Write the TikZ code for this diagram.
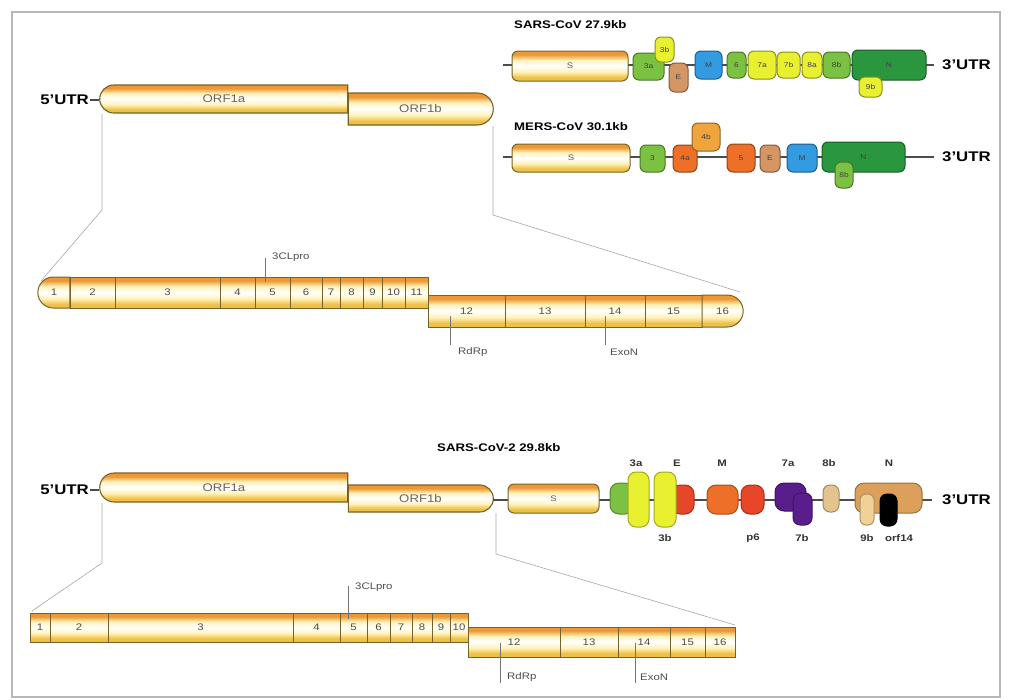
\documentclass[tikz,border=0pt]{standalone}
\usepackage{fontspec}
\setmainfont[FakeStretch=1.2]{Liberation Sans}
\usetikzlibrary{shapes.misc}
\definecolor{orftop}{RGB}{236,152,52}
\definecolor{orfbot}{RGB}{238,192,72}
\definecolor{orfmid}{RGB}{255,242,185}
\definecolor{orfline}{RGB}{118,98,40}
\definecolor{gLight}{RGB}{124,194,66}
\definecolor{gDark}{RGB}{42,150,62}
\definecolor{yel}{RGB}{232,240,48}
\definecolor{tanE}{RGB}{212,150,100}
\definecolor{blu}{RGB}{50,155,225}
\definecolor{org}{RGB}{238,112,40}
\definecolor{lorg}{RGB}{240,165,60}
\definecolor{redE}{RGB}{232,70,40}
\definecolor{pur}{RGB}{90,30,140}
\definecolor{tanB}{RGB}{228,196,140}
\definecolor{ntan}{RGB}{220,160,90}
\definecolor{ptan}{RGB}{240,210,150}
\pgfdeclareverticalshading{orf}{100bp}{color(0bp)=(orfbot); color(25bp)=(orfbot); color(31bp)=(orfbot); color(40bp)=(orfmid); color(50bp)=(white); color(60bp)=(orfmid); color(69bp)=(orftop); color(75bp)=(orftop); color(100bp)=(orftop)}
\newcommand\gbox[7]{\node[#6,minimum width={(#4)-(#2)},minimum height={(#5)-(#3)}] (#1) at ({((#2)+(#4))/2},{((#3)+(#5))/2}) {#7};}
\tikzset{
 orfbox/.style={rounded rectangle, shade, shading=orf, draw=orfline, line width=1.1pt, inner sep=0pt, font=\fontsize{11}{11}\selectfont, text=black!60},
 cell/.style={rectangle, shade, shading=orf, draw=orfline, line width=1pt, inner sep=0pt, font=\fontsize{9.5}{10}\selectfont, text=black!70},
 gene/.style={rectangle, rounded corners=6pt, line width=1pt, inner sep=0pt, font=\fontsize{7}{7}\selectfont, text=black!75},
 gc/.style={gene, fill=#1, draw=#1!60!black},
 sgene/.style={rectangle, rounded corners=6pt, shade, shading=orf, draw=orfline, line width=1pt, inner sep=0pt, font=\fontsize{8}{8}\selectfont, text=black!65},
 g2/.style={rectangle, rounded corners=9pt, fill=#1, draw=#1!70!black, line width=1pt, inner sep=0pt},
 bb/.style={draw=black!70, line width=1.2pt},
 utr/.style={font=\bfseries\fontsize{14}{14}\selectfont, inner sep=1pt},
 ttl/.style={font=\bfseries\fontsize{11}{11}\selectfont, inner sep=0pt},
 conn/.style={draw=black!35, line width=0.6pt},
 tickline/.style={draw=black!55, line width=0.6pt},
 lab/.style={font=\fontsize{9.5}{10}\selectfont, text=black!70, inner sep=0pt},
 glab/.style={font=\bfseries\fontsize{9.5}{10}\selectfont, text=black!80, inner sep=0pt},
}
\begin{document}
\begin{tikzpicture}[x=1pt,y=-1pt]
\useasboundingbox (0,0) rectangle (1009,699);
\draw[black!28, line width=1.2pt] (12,12) rectangle (1000,697);

% ---------- top genome ----------
\gbox{o1b}{348}{93}{493}{125}{orfbox,rounded rectangle west arc=none}{ORF1b}
\gbox{o1a}{100}{85}{348}{113}{orfbox,rounded rectangle east arc=none}{ORF1a}
\node[utr,anchor=east] (u5a) at (90,100) {5'UTR};
\draw[bb] (u5a.east) -- (o1a.west |- u5a.east);

% connectors to nsp row
\coordinate (c1) at (102,114); \coordinate (c2) at (102,210); \coordinate (c3) at (41,281);
\draw[conn] (c1) -- (c2) -- (c3);
\coordinate (c4) at (493,126); \coordinate (c5) at (493,215); \coordinate (c6) at (740,292);
\draw[conn] (c4) -- (c5) -- (c6);

% ---------- SARS-CoV ----------
\node[ttl,anchor=west] (tA) at (514,25) {SARS-CoV 27.9kb};
\coordinate (bA0) at (503,65); \coordinate (bA1) at (934,65);
\draw[bb] (bA0) -- (bA1);
\node[utr,anchor=west] (u3a) at (941,65) {3'UTR};
\gbox{aS}{512}{51}{628}{81}{sgene}{S}
\gbox{a3a}{633}{53}{664}{80}{gc=gLight}{3a}
\gbox{a3b}{655}{37}{674}{62}{gc=yel}{3b}
\gbox{aE}{669}{63}{688}{92}{gc=tanE}{E}
\gbox{aM}{695}{51}{722}{79}{gc=blu}{M}
\gbox{a6}{727}{52}{746}{78}{gc=gLight}{6}
\gbox{a7a}{748}{51}{776}{79}{gc=yel}{7a}
\gbox{a7b}{777}{52}{800}{78}{gc=yel}{7b}
\gbox{a8a}{802}{52}{822}{78}{gc=yel}{8a}
\gbox{a8b}{823}{52}{850}{78}{gc=gLight}{8b}
\gbox{aN}{852}{50}{926}{80}{gc=gDark}{N}
\gbox{a9b}{859}{77}{882}{97}{gc=yel}{9b}

% ---------- MERS-CoV ----------
\node[ttl,anchor=west] (tB) at (514,127) {MERS-CoV 30.1kb};
\coordinate (bB0) at (503,157); \coordinate (bB1) at (934,157);
\draw[bb] (bB0) -- (bB1);
\node[utr,anchor=west] (u3b) at (941,157) {3'UTR};
\gbox{bS}{512}{144}{630}{172}{sgene}{S}
\gbox{b3}{640}{145}{665}{172}{gc=gLight}{3}
\gbox{b4a}{673}{145}{697}{172}{gc=org}{4a}
\gbox{b4b}{692}{123}{720}{151}{gc=lorg}{4b}
\gbox{b5}{727}{144}{755}{172}{gc=org}{5}
\gbox{bE}{760}{145}{780}{172}{gc=tanE}{E}
\gbox{bM}{787}{144}{817}{172}{gc=blu}{M}
\gbox{bN}{822}{142}{905}{172}{gc=gDark}{N}
\gbox{b8b}{835}{162}{853}{188}{gc=gLight}{8b}

% ---------- nsp row (SARS-CoV) ----------
\gbox{n1}{38}{277}{70}{308}{cell,rounded rectangle,rounded rectangle east arc=none}{1}
\gbox{n2}{70}{277}{115}{308}{cell}{2}
\gbox{n3}{115}{277}{220}{308}{cell}{3}
\gbox{n4}{220}{277}{255}{308}{cell}{4}
\gbox{n5}{255}{277}{290}{308}{cell}{5}
\gbox{n6}{290}{277}{322}{308}{cell}{6}
\gbox{n7}{322}{277}{340}{308}{cell}{7}
\gbox{n8}{340}{277}{363}{308}{cell}{8}
\gbox{n9}{363}{277}{382}{308}{cell}{9}
\gbox{n10}{382}{277}{405}{308}{cell}{10}
\gbox{n11}{405}{277}{428}{308}{cell}{11}
\gbox{n12}{428}{295}{505}{327}{cell}{12}
\gbox{n13}{505}{295}{585}{327}{cell}{13}
\gbox{n14}{585}{295}{645}{327}{cell}{14}
\gbox{n15}{645}{295}{702}{327}{cell}{15}
\gbox{n16}{702}{295}{743}{327}{cell,rounded rectangle,rounded rectangle west arc=none}{16}
\coordinate (k1a) at (265,258); \coordinate (k1b) at (265,282);
\draw[tickline] (k1a) -- (k1b);
\node[lab,anchor=west] (l1) at (272,257) {3CLpro};
\coordinate (k2a) at (450,316); \coordinate (k2b) at (450,345);
\draw[tickline] (k2a) -- (k2b);
\node[lab,anchor=west] (l2) at (458,352) {RdRp};
\coordinate (k3a) at (605,316); \coordinate (k3b) at (605,345);
\draw[tickline] (k3a) -- (k3b);
\node[lab,anchor=west] (l3) at (610,352) {ExoN};

% ---------- bottom genome (SARS-CoV-2) ----------
\gbox{p1b}{348}{485}{493}{512}{orfbox,rounded rectangle west arc=none}{ORF1b}
\gbox{p1a}{100}{473}{348}{502}{orfbox,rounded rectangle east arc=none}{ORF1a}
\node[utr,anchor=east] (u5b) at (90,490) {5'UTR};
\draw[bb] (u5b.east) -- (p1a.west |- u5b.east);
\node[ttl,anchor=west] (tC) at (437,448) {SARS-CoV-2 29.8kb};
\coordinate (bC0) at (493,500); \coordinate (bC1) at (932,500);
\draw[bb] (bC0) -- (bC1);
\node[utr,anchor=west] (u3c) at (941,500) {3'UTR};
\gbox{cS}{508}{484}{599}{513}{sgene}{S}
\gbox{cg}{610}{483}{634}{514}{g2=gLight}{}
\gbox{cE}{671}{485}{694}{514}{g2=redE}{}
\gbox{c3a}{628}{472}{649}{527}{g2=yel,rounded corners=8pt}{}
\gbox{c3b}{654}{472}{676}{527}{g2=yel,rounded corners=8pt}{}
\gbox{cM}{707}{485}{738}{514}{g2=org}{}
\gbox{cp6}{741}{485}{764}{514}{g2=redE}{}
\gbox{c7a}{775}{483}{806}{511}{g2=pur}{}
\gbox{c7b}{793}{493}{812}{525}{g2=pur,rounded corners=7pt}{}
\gbox{c8b}{823}{485}{839}{512}{g2=tanB,rounded corners=7pt}{}
\gbox{cN}{855}{483}{922}{513}{g2=ntan}{}
\gbox{c9b}{860}{494}{874}{525}{g2=ptan,rounded corners=6pt}{}
\gbox{c14}{880}{494}{897}{526}{g2=black,rounded corners=7pt}{}
\node[glab] (L3a) at (636,463) {3a};
\node[glab] (LE) at (677,463) {E};
\node[glab] (LM) at (722,463) {M};
\node[glab] (L7a) at (788,463) {7a};
\node[glab] (L8b) at (829,463) {8b};
\node[glab] (LN) at (889,463) {N};
\node[glab] (L3b) at (665,538) {3b};
\node[glab] (Lp6) at (753,538) {p6};
\node[glab] (L7b) at (802,538) {7b};
\node[glab] (L9b) at (867,538) {9b};
\node[glab] (L14) at (899,538) {orf14};

% connectors to bottom nsp row
\coordinate (d1) at (102,503); \coordinate (d2) at (102,563); \coordinate (d3) at (32,611);
\draw[conn] (d1) -- (d2) -- (d3);
\coordinate (d4) at (496,513); \coordinate (d5) at (496,554); \coordinate (d6) at (735,625);
\draw[conn] (d4) -- (d5) -- (d6);

% ---------- nsp row (SARS-CoV-2) ----------
\gbox{m1}{30}{613}{50}{642}{cell}{1}
\gbox{m2}{50}{613}{108}{642}{cell}{2}
\gbox{m3}{108}{613}{293}{642}{cell}{3}
\gbox{m4}{293}{613}{340}{642}{cell}{4}
\gbox{m5}{340}{613}{367}{642}{cell}{5}
\gbox{m6}{367}{613}{390}{642}{cell}{6}
\gbox{m7}{390}{613}{412}{642}{cell}{7}
\gbox{m8}{412}{613}{432}{642}{cell}{8}
\gbox{m9}{432}{613}{450}{642}{cell}{9}
\gbox{m10}{450}{613}{468}{642}{cell}{10}
\gbox{m12}{468}{627}{560}{657}{cell}{12}
\gbox{m13}{560}{627}{618}{657}{cell}{13}
\gbox{m14}{618}{627}{670}{657}{cell}{14}
\gbox{m15}{670}{627}{705}{657}{cell}{15}
\gbox{m16}{705}{627}{735}{657}{cell}{16}
\coordinate (j1a) at (348,586); \coordinate (j1b) at (348,619);
\draw[tickline] (j1a) -- (j1b);
\node[lab,anchor=west] (q1) at (355,587) {3CLpro};
\coordinate (j2a) at (500,643); \coordinate (j2b) at (500,683);
\draw[tickline] (j2a) -- (j2b);
\node[lab,anchor=west] (q2) at (507,677) {RdRp};
\coordinate (j3a) at (635,643); \coordinate (j3b) at (635,683);
\draw[tickline] (j3a) -- (j3b);
\node[lab,anchor=west] (q3) at (640,677) {ExoN};
\end{tikzpicture}
\end{document}
